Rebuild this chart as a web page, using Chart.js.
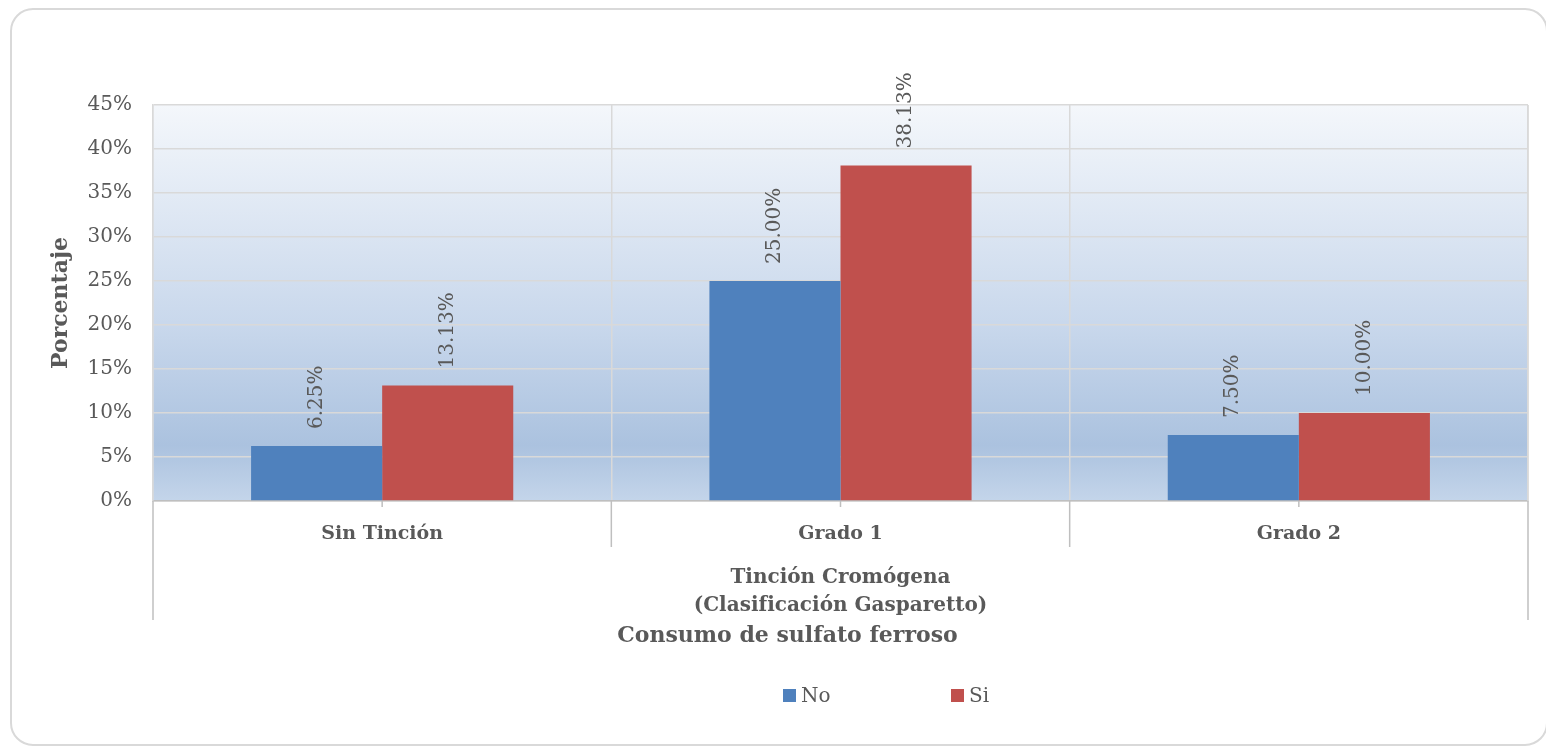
<!DOCTYPE html>
<html lang="es">
<head>
<meta charset="utf-8">
<title>Consumo de sulfato ferroso</title>
<script src="https://cdn.jsdelivr.net/npm/chart.js@4.4.1/dist/chart.umd.min.js"></script>
<style>
  html, body { margin: 0; padding: 0; background: #ffffff; }
  canvas { display: block; }
</style>
</head>
<body>
<canvas id="chart" width="1546" height="746"></canvas>
<script>
// Categories and series values (percent)
const categories = ['Sin Tinción', 'Grado 1', 'Grado 2'];
const seriesNames = ['No', 'Si'];
const valuesNo = [6.25, 25.00, 7.50];
const valuesSi = [13.13, 38.13, 10.00];
const seriesColors = ['#4f81bd', '#c0504d'];
const yMin = 0, yMax = 45, yStep = 5;

const groupLabel = ['Tinción Cromógena', '(Clasificación Gasparetto)'];
const xTitle = 'Consumo de sulfato ferroso';
const yTitle = 'Porcentaje';

const FONT = "'DejaVu Serif', serif";
const TEXT = '#595959';
const GRID = '#d9d9d9';

// Gradient fill behind the plot area
const plotBackground = {
  id: 'plotBackground',
  beforeDraw(chart) {
    const { ctx, chartArea: a } = chart;
    const g = ctx.createLinearGradient(0, a.top, 0, a.bottom);
    g.addColorStop(0, '#f4f7fb');
    g.addColorStop(0.55, '#c9d8ec');
    g.addColorStop(0.86, '#abc2df');
    g.addColorStop(1, '#c4d5ea');
    ctx.save();
    ctx.fillStyle = g;
    ctx.fillRect(a.left, a.top, a.right - a.left, a.bottom - a.top);
    ctx.restore();
  }
};

// Category dividers, group label, axis titles, outer frame and legend
const decorations = {
  id: 'decorations',
  afterDraw(chart) {
    const { ctx, chartArea: a } = chart;
    const xs = chart.scales.x;
    const n = categories.length;
    const step = (a.right - a.left) / n;
    ctx.save();

    // plot border on the right side
    ctx.strokeStyle = GRID;
    ctx.lineWidth = 1.5;
    ctx.beginPath();
    ctx.moveTo(a.right, a.top);
    ctx.lineTo(a.right, a.bottom);
    ctx.stroke();

    // dividers below the axis
    ctx.strokeStyle = '#bfbfbf';
    ctx.lineWidth = 1.5;
    for (let i = 0; i <= n; i++) {
      const x = i === 0 ? a.left : (i === n ? a.right : xs.getPixelForValue(i) - step / 2);
      const len = (i === 0 || i === n) ? 119 : 46;
      ctx.beginPath();
      ctx.moveTo(x, a.bottom);
      ctx.lineTo(x, a.bottom + len);
      ctx.stroke();
    }
    for (let i = 0; i < n; i++) {
      const x = xs.getPixelForValue(i);
      ctx.beginPath();
      ctx.moveTo(x, a.bottom);
      ctx.lineTo(x, a.bottom + 6);
      ctx.stroke();
    }

    const cx = (a.left + a.right) / 2;
    ctx.fillStyle = TEXT;
    ctx.textBaseline = 'middle';
    ctx.textAlign = 'center';
    ctx.font = 'bold 20px ' + FONT;
    ctx.fillText(groupLabel[0], cx, a.bottom + 77);
    ctx.fillText(groupLabel[1], cx, a.bottom + 105);
    ctx.font = 'bold 22px ' + FONT;
    ctx.fillText(xTitle, cx - 53, a.bottom + 135);

    // y axis title
    ctx.save();
    ctx.translate(61, (a.top + a.bottom) / 2);
    ctx.rotate(-Math.PI / 2);
    ctx.font = 'bold 22px ' + FONT;
    ctx.fillText(yTitle, 0, 0);
    ctx.restore();

    // legend
    const legendX = [783, 951];
    ctx.font = '20px ' + FONT;
    ctx.textAlign = 'left';
    chart.data.datasets.forEach((ds, i) => {
      ctx.fillStyle = ds.backgroundColor;
      ctx.fillRect(legendX[i], 689, 13, 13);
      ctx.fillStyle = TEXT;
      ctx.fillText(ds.label, legendX[i] + 18, 697);
    });

    // outer rounded frame
    ctx.strokeStyle = '#d9d9d9';
    ctx.lineWidth = 2;
    ctx.beginPath();
    ctx.roundRect(11, 9, 1536, 736, 22);
    ctx.stroke();
    ctx.restore();
  }
};

// Rotated value labels above each bar
const valueLabels = {
  id: 'valueLabels',
  afterDatasetsDraw(chart) {
    const { ctx } = chart;
    ctx.save();
    ctx.fillStyle = TEXT;
    ctx.font = '20px ' + FONT;
    ctx.textAlign = 'left';
    ctx.textBaseline = 'middle';
    chart.data.datasets.forEach((ds, di) => {
      chart.getDatasetMeta(di).data.forEach((bar, i) => {
        ctx.save();
        ctx.translate(bar.x, bar.y - 17);
        ctx.rotate(-Math.PI / 2);
        ctx.fillText(ds.data[i].toFixed(2) + '%', 0, 0);
        ctx.restore();
      });
    });
    ctx.restore();
  }
};

new Chart(document.getElementById('chart'), {
  type: 'bar',
  data: {
    labels: categories,
    datasets: [
      { label: seriesNames[0], data: valuesNo, backgroundColor: seriesColors[0] },
      { label: seriesNames[1], data: valuesSi, backgroundColor: seriesColors[1] }
    ]
  },
  options: {
    responsive: false,
    devicePixelRatio: 1,
    animation: false,
    layout: { padding: { left: 40, top: 105, right: 18, bottom: 0 } },
    datasets: { bar: { categoryPercentage: 0.572, barPercentage: 1.0, borderWidth: 0 } },
    plugins: { legend: { display: false }, tooltip: { enabled: false }, title: { display: false } },
    scales: {
      x: {
        afterFit(scale) { scale.height = 245; },
        grid: { offset: true, color: GRID, lineWidth: 1.5, drawTicks: false },
        border: { color: '#bfbfbf', width: 1.5 },
        ticks: { color: TEXT, font: { family: FONT, size: 19, weight: 'bold' }, padding: 22, maxRotation: 0 }
      },
      y: {
        min: yMin, max: yMax,
        afterFit(scale) { scale.width = 113; },
        grid: { color: GRID, lineWidth: 1.5, drawTicks: false },
        border: { color: GRID, width: 1.5 },
        ticks: { stepSize: yStep, color: TEXT, font: { family: FONT, size: 20 }, padding: 21,
                 callback: v => v + '%' }
      }
    }
  },
  plugins: [plotBackground, valueLabels, decorations]
});
</script>
</body>
</html>
